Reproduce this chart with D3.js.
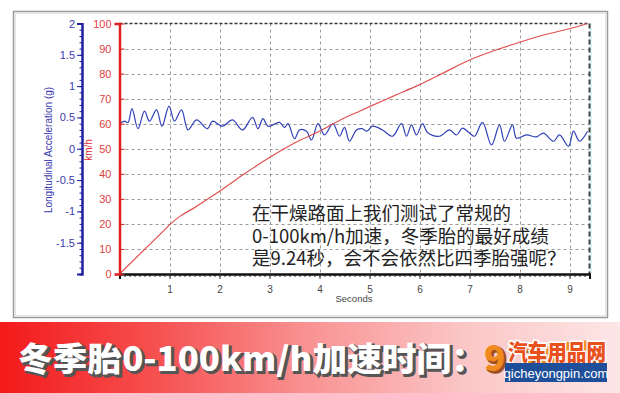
<!DOCTYPE html>
<html><head><meta charset="utf-8">
<script src="https://cdn.jsdelivr.net/npm/d3@7/dist/d3.min.js"></script>
<style>body{margin:0;background:#fff}svg{display:block}</style>
</head><body>
<svg id="c" width="620" height="393"></svg>
<script>
// ---- data ----
const speedTime = [0,0.5,0.9,1.0,1.2,1.5,2.0,2.5,3.0,3.5,4.0,4.4,4.8,5.0,5.5,6.0,6.5,7.0,7.5,8.0,8.5,9.0,9.36];
const speedKmh  = [0,9.8,17.6,19.6,22.9,26.5,33,40,46.5,52.3,57,61.3,65,66.8,71.2,75.6,80.5,85.4,89.2,92.5,95.5,97.9,100];
const accTime = [0,0.1,0.17,0.25,0.37,0.5,0.6,0.74,0.85,0.99,1.1,1.24,1.37,1.54,1.76,1.86,2.06,2.26,2.46,2.66,2.77,2.87,2.97,3.2,3.3,3.37,3.5,3.6,3.74,3.84,3.97,4.1,4.27,4.4,4.5,4.6,4.74,4.85,4.95,5.06,5.26,5.46,5.64,5.74,5.84,5.94,6.06,6.16,6.4,6.6,6.74,6.86,7.0,7.1,7.26,7.44,7.6,7.7,7.86,7.94,8.14,8.34,8.48,8.68,8.8,8.98,9.08,9.2,9.36];
const accG = [0.40,0.44,0.42,0.64,0.32,0.60,0.44,0.62,0.36,0.68,0.44,0.62,0.30,0.46,0.32,0.44,0.36,0.46,0.30,0.50,0.32,0.48,0.36,0.42,0.34,0.40,0.16,0.30,0.28,0.14,0.40,0.22,0.40,0.20,0.34,0.12,0.30,0.32,0.28,0.36,0.30,0.20,0.40,0.20,0.38,0.22,0.40,0.26,0.20,0.30,0.22,0.33,0.25,0.20,0.42,0.06,0.38,0.12,0.38,0.17,0.22,0.19,0.25,0.12,0.22,0.04,0.28,0.12,0.28];
const xTicks = [1,2,3,4,5,6,7,8,9];
const speedTicks = [0,10,20,30,40,50,60,70,80,90,100];
const accTicks = [-1.5,-1,-0.5,0,0.5,1,1.5,2];
const xLabel = "Seconds";
const accLabel = "Longitudinal Acceleration (g)";
const speedLabel = "km/h";
const noteLines = ["在干燥路面上我们测试了常规的","0-100km/h加速，冬季胎的最好成绩","是9.24秒，会不会依然比四季胎强呢？"];
const bannerText = "冬季胎0-100km/h加速时间：";
const bannerValue = "9.24秒";
const logoText = "汽车用品网";
const logoUrl = "qicheyongpin.com";

const svg = d3.select("#c");
const defs = svg.append("defs");
const gr = defs.append("linearGradient").attr("id","bg").attr("x1","0").attr("x2","1").attr("y1","0").attr("y2","0");
[[0,"#f31a1a"],[0.25,"#f65050"],[0.5,"#f99393"],[0.75,"#fbc6c6"],[1,"#fde6e6"]].forEach(s=>gr.append("stop").attr("offset",s[0]).attr("stop-color",s[1]));

// frame
svg.append("rect").attr("x",13.5).attr("y",11.5).attr("width",594).attr("height",306).attr("fill","#fff").attr("stroke","#9a9a9a").attr("stroke-width",1.5);
svg.append("rect").attr("x",15.5).attr("y",13.5).attr("width",590).attr("height",302).attr("fill","none").attr("stroke","#dfe6ea").attr("stroke-width",1);

const x = d3.scaleLinear().domain([0,9.4]).range([119.5,589.5]);
const ySpd = d3.scaleLinear().domain([0,100]).range([274,23.5]);
const yAcc = d3.scaleLinear().domain([-2,2]).range([274,23.5]);

// grid
const grid = svg.append("g").attr("stroke","#9a9a9a").attr("stroke-dasharray","3,3").attr("stroke-width",1);
xTicks.forEach(t=>grid.append("line").attr("x1",Math.round(x(t))+0.5).attr("x2",Math.round(x(t))+0.5).attr("y1",ySpd(100)).attr("y2",ySpd(0)));
speedTicks.filter(v=>v>0&&v<100).forEach(v=>grid.append("line").attr("x1",x(0)).attr("x2",x(9.4)).attr("y1",Math.round(ySpd(v))+0.5).attr("y2",Math.round(ySpd(v))+0.5));
// top and right border
svg.append("line").attr("x1",x(0)).attr("x2",x(9.4)).attr("y1",ySpd(100)).attr("y2",ySpd(100)).attr("stroke","#333").attr("stroke-dasharray","3,2").attr("stroke-width",1.5);
svg.append("line").attr("x1",x(9.4)+1).attr("x2",x(9.4)+1).attr("y1",ySpd(100)).attr("y2",ySpd(0)).attr("stroke","#cdeff2").attr("stroke-width",2);
svg.append("line").attr("x1",x(9.4)).attr("x2",x(9.4)).attr("y1",ySpd(100)).attr("y2",ySpd(0)).attr("stroke","#444").attr("stroke-dasharray","5,3").attr("stroke-width",2);

// note text
const note = svg.append("g").attr("font-family","'Noto Sans CJK SC', sans-serif").attr("font-size",18.5).attr("fill","#222");
noteLines.forEach((l,i)=>note.append("text").attr("x",252).attr("y",220+i*22.5).text(l));

// x axis
const xa = svg.append("g").attr("transform","translate(0,274)");
xa.call(d3.axisBottom(x).tickValues(d3.range(0.1,9.41,0.1)).tickSize(3).tickFormat(""));
xa.append("g").call(d3.axisBottom(x).tickValues(xTicks).tickSize(5).tickFormat(d3.format("d")));
xa.selectAll(".domain").attr("stroke","#111").attr("stroke-width",2);
xa.selectAll("line").attr("stroke","#333");
xa.selectAll("text").attr("fill","#444").attr("font-family","Arial, 'Liberation Sans'").attr("font-size",10).attr("dy","1.05em");
svg.append("text").attr("x",354).attr("y",302).attr("text-anchor","middle").attr("font-family","Arial, 'Liberation Sans'").attr("font-size",9.5).attr("fill","#444").text(xLabel);

// lines
svg.append("path").datum(accTime.map((t,i)=>[t,accG[i]]))
  .attr("d",d3.line().x(d=>x(d[0])).y(d=>yAcc(d[1])).curve(d3.curveCatmullRom))
  .attr("fill","none").attr("stroke","#3040b8").attr("stroke-width",1.2);
svg.append("path").datum(speedTime.map((t,i)=>[t,speedKmh[i]]))
  .attr("d",d3.line().x(d=>x(d[0])).y(d=>ySpd(d[1])).curve(d3.curveMonotoneX))
  .attr("fill","none").attr("stroke","#e05050").attr("stroke-width",1.2);

// speed axis
const sa = svg.append("g").attr("transform","translate(119.5,0)");
sa.call(d3.axisLeft(ySpd).tickValues(speedTicks).tickSize(5).tickPadding(3));
sa.selectAll(".tick line").attr("x2",5);
sa.selectAll(".domain").attr("stroke","#e02020").attr("stroke-width",2.5);
sa.selectAll("line").attr("stroke","#e02020");
sa.selectAll("text").attr("fill","#e04040").attr("font-family","Arial, 'Liberation Sans'").attr("font-size",11);
// accel axis
const aa = svg.append("g").attr("transform","translate(82,0)");
aa.call(d3.axisLeft(yAcc).tickValues(d3.range(-19,20).map(v=>v/10)).tickSize(2.5).tickFormat(""));
aa.append("g").call(d3.axisLeft(yAcc).tickValues(accTicks).tickSize(5).tickPadding(2).tickFormat(d=>d));
aa.selectAll(".domain").attr("stroke","#2020a0").attr("stroke-width",2);
aa.selectAll("line").attr("stroke","#2020a0");
aa.selectAll("text").attr("fill","#3a3ab0").attr("font-family","Arial, 'Liberation Sans'").attr("font-size",11);

svg.append("text").attr("transform","translate(52,150) rotate(-90)").attr("text-anchor","middle").attr("font-family","Arial, 'Liberation Sans'").attr("font-size",10).attr("fill","#3a3ab0").text(accLabel);
svg.append("text").attr("transform","translate(92,150) rotate(-90)").attr("text-anchor","middle").attr("font-family","Arial, 'Liberation Sans'").attr("font-size",10).attr("fill","#e03030").text(speedLabel);

// banner
svg.append("rect").attr("x",0).attr("y",322).attr("width",620).attr("height",71).attr("fill","url(#bg)");
const bf = "'Noto Sans CJK SC', sans-serif";
const bt = svg.append("g").attr("font-family",bf).attr("font-weight",900).attr("font-size",33);
bt.append("text").attr("x",20).attr("y",373).attr("textLength",468).attr("lengthAdjust","spacingAndGlyphs").attr("fill","#555").attr("stroke","#555").attr("stroke-width",2).text(bannerText);
bt.append("text").attr("x",18).attr("y",371).attr("textLength",468).attr("lengthAdjust","spacingAndGlyphs").attr("fill","#fff").text(bannerText);
bt.append("text").attr("x",486).attr("y",373).attr("font-size",35).attr("fill","#a05020").attr("stroke","#a05020").attr("stroke-width",1.5).text(bannerValue);
bt.append("text").attr("x",484).attr("y",371).attr("font-size",35).attr("fill","#f08a1e").text(bannerValue);
// logo
svg.append("text").attr("x",557).attr("y",360).attr("text-anchor","middle").attr("font-family",bf).attr("font-weight",900).attr("font-size",22)
  .attr("textLength",98).attr("lengthAdjust","spacingAndGlyphs")
  .attr("fill","#e8501c").attr("stroke","#fff").attr("stroke-width",3).attr("paint-order","stroke").text(logoText);
svg.append("rect").attr("x",505).attr("y",363).attr("width",102).attr("height",19).attr("fill","#1f4f9a");
svg.append("text").attr("x",556).attr("y",377.5).attr("text-anchor","middle").attr("font-family","Arial, 'Liberation Sans'").attr("font-size",13).attr("fill","#fff").text(logoUrl);
</script>
</body></html>
